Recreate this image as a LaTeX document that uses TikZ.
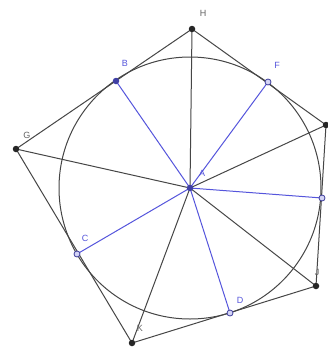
\documentclass[tikz,border=0pt]{standalone}
\usepackage{fontspec}
\setmainfont{Liberation Sans}
\definecolor{gblue}{RGB}{85,85,220}
\definecolor{gdark}{RGB}{70,70,70}
\definecolor{glab}{RGB}{100,100,100}
\begin{document}
\begin{tikzpicture}[x=1pt,y=-1pt,
  blk/.style={draw=gdark,line width=1pt},
  blu/.style={draw=gblue,line width=1pt},
  vpt/.style={circle,fill=black!85,inner sep=0pt,minimum size=6.5pt},
  bpt/.style={circle,fill=gblue!75!black,inner sep=0pt,minimum size=6.5pt},
  opt/.style={circle,draw=gblue!70!black,fill=gblue!25,line width=0.8pt,inner sep=0pt,minimum size=6pt},
  blab/.style={text=glab,font=\fontsize{9}{9}\selectfont,inner sep=0pt},
  ulab/.style={text=gblue,font=\fontsize{9}{9}\selectfont,inner sep=0pt}]
\useasboundingbox[fill=white] (0,0) rectangle (328,351);
\coordinate (A) at (190,188);
\coordinate (H) at (192,29);
\coordinate (G) at (16,149);
\coordinate (I) at (326,125);
\coordinate (J) at (316,286);
\coordinate (K) at (132,343);
\coordinate (B) at (116,81);
\coordinate (F) at (268,82);
\coordinate (E) at (322,198);
\coordinate (D) at (230,313);
\coordinate (C) at (77,254);
% circle
\draw[blk] (A) circle (131);
% polygon
\draw[blk] (H) -- (I) -- (J) -- (K) -- (G) -- cycle;
% spokes to vertices
\foreach \v in {H,I,J,K,G} \draw[blk] (A) -- (\v);
% radii to tangent points
\foreach \v in {B,F,E,D,C} \draw[blu] (A) -- (\v);
% points
\foreach \v in {H,I,J,K,G} \node[vpt] (p\v) at (\v) {};
\node[bpt] (pA) at (A) {};
\node[bpt] (pB) at (B) {};
\foreach \v in {F,E,D,C} \node[opt] (p\v) at (\v) {};
% labels
\node[blab] (lH) at (203,13) {H};
\node[ulab] (lB) at (125,63) {B};
\node[ulab] (lF) at (277,65) {F};
\node[blab] (lG) at (27,135) {G};
\node[ulab] (lA) at (202,173) {A};
\node[ulab] (lD) at (240,300) {D};
\node[ulab] (lC) at (85,238) {C};
\node[blab] (lK) at (140,328) {K};
\node[blab] (lJ) at (317,272) {J};
\end{tikzpicture}
\end{document}
